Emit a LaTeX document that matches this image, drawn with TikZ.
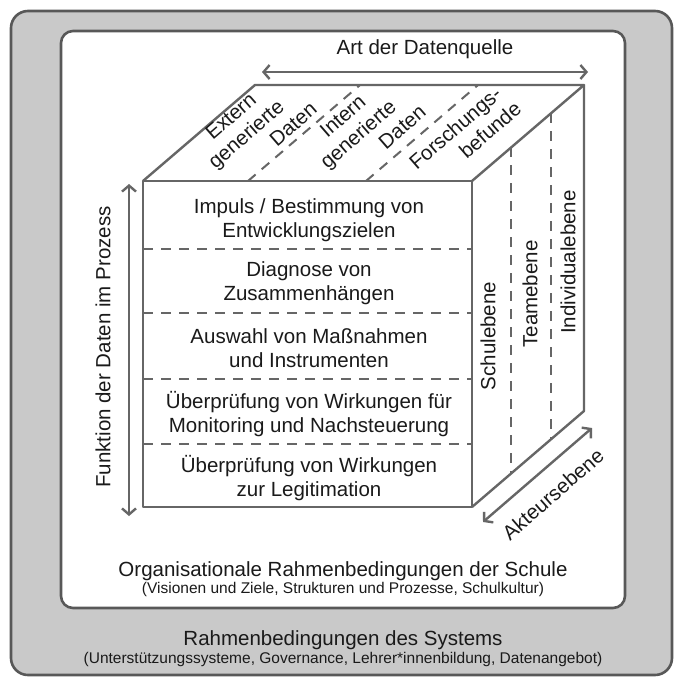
\documentclass[tikz,border=0pt]{standalone}
\usepackage{fontspec}
\setmainfont{Liberation Sans}
\usetikzlibrary{arrows.meta}
\definecolor{frame}{HTML}{585858}
\definecolor{outerfill}{HTML}{C9C9C9}
\definecolor{ln}{HTML}{666666}
\definecolor{txt}{HTML}{1A1A1A}
\begin{document}
\begin{tikzpicture}[x=1pt,y=-1pt,
  lbl/.style={font=\fontsize{20.5}{23.5}\selectfont, text=txt, inner sep=0pt, align=center},
  small/.style={font=\fontsize{15.5}{18}\selectfont, text=txt, inner sep=0pt},
  edge/.style={draw=ln, line width=2.4pt, line join=round},
  divider/.style={draw=ln, line width=2pt, dash pattern=on 10pt off 8pt},
  dimarrow/.style={draw=ln, line width=2.4pt,
    {Straight Barb[length=6pt,width=14pt]}-{Straight Barb[length=6pt,width=14pt]}},
  rowtext/.style={lbl, anchor=center},
  toplbl/.style={lbl, rotate=41},
]
% canvas
\fill[white] (0,0) rectangle (678,678);
\useasboundingbox (0,0) rectangle (678,678);

% system frame and school frame
\draw[draw=frame, fill=outerfill, line width=2.6pt, rounded corners=17pt] (11,11) rectangle (672,675);
\draw[draw=frame, fill=white, line width=2.6pt, rounded corners=12pt] (61,31) rectangle (625,608);

% cube corners
\coordinate (A) at (143,181); % front top left
\coordinate (B) at (472,181); % front top right
\coordinate (C) at (472,507); % front bottom right
\coordinate (D) at (143,507); % front bottom left
\coordinate (E) at (255,85);  % back top left
\coordinate (F) at (584,85);  % back top right
\coordinate (G) at (584,411); % back bottom right

% row dividers on the front face
\draw[divider] (143,249) -- (472,249);
\draw[divider] (143,313) -- (472,313);
\draw[divider] (143,379) -- (472,379);
\draw[divider] (143,444) -- (472,444);

% column dividers on the top face
\draw[divider] (248,181) -- (360,85);
\draw[divider] (366,181) -- (478,85);

% level dividers on the right face
\draw[divider] (511,147.4) -- (511,473.4);
\draw[divider] (551,113.3) -- (551,439.3);

% cube outline
\draw[edge] (A) rectangle (C);
\draw[edge] (A) -- (E) -- (F) -- (B);
\draw[edge] (F) -- (G) -- (C);

% axis arrows
\coordinate (artL) at (262,72);
\coordinate (artR) at (588,72);
\draw[dimarrow] (artL) -- (artR);
\coordinate (funT) at (129,184);
\coordinate (funB) at (129,516);
\draw[dimarrow] (funT) -- (funB);
\coordinate (aktL) at (483,522);
\coordinate (aktR) at (592,428);
\draw[dimarrow] (aktL) -- (aktR);

% axis labels
\node[lbl] (art) at (425,49) {Art der Datenquelle};
\node[lbl, rotate=90] (fun) at (103,347) {Funktion der Daten im Prozess};
\node[lbl, rotate=41] (akt) at (553,494) {Akteursebene};

% functions of the data (front face)
\node[rowtext] (r1) at (309,220) {Impuls / Bestimmung von\\Entwicklungszielen};
\node[rowtext] (r2) at (309,283) {Diagnose von\\Zusammenhängen};
\node[rowtext] (r3) at (309,348) {Auswahl von Maßnahmen\\und Instrumenten};
\node[rowtext] (r4) at (309,414) {Überprüfung von Wirkungen für\\Monitoring und Nachsteuerung};
\node[rowtext] (r5) at (309,478) {Überprüfung von Wirkungen\\zur Legitimation};

% data sources (top face), last line of each set off to the right
\node[toplbl] (src1) at (246,134) {Extern\\generierte\\\hspace*{84pt}Daten};
\node[toplbl] (src2) at (358,134) {Intern\\generierte\\\hspace*{76pt}Daten};
\node[toplbl] (src3) at (463,137) {Forschungs-\\[1pt]\hspace*{50pt}befunde};

% actor levels (right face)
\node[lbl, rotate=90] (l1) at (488,336) {Schulebene};
\node[lbl, rotate=90] (l2) at (530,294) {Teamebene};
\node[lbl, rotate=90] (l3) at (568,262) {Individualebene};

% framework conditions
\node[lbl] (org) at (343,571) {Organisationale Rahmenbedingungen der Schule};
\node[small] (orgsub) at (343,589) {(Visionen und Ziele, Strukturen und Prozesse, Schulkultur)};
\node[lbl] (sys) at (343,640) {Rahmenbedingungen des Systems};
\node[small] (syssub) at (343,659) {(Unterstützungssysteme, Governance, Lehrer*innenbildung, Datenangebot)};
\end{tikzpicture}
\end{document}
